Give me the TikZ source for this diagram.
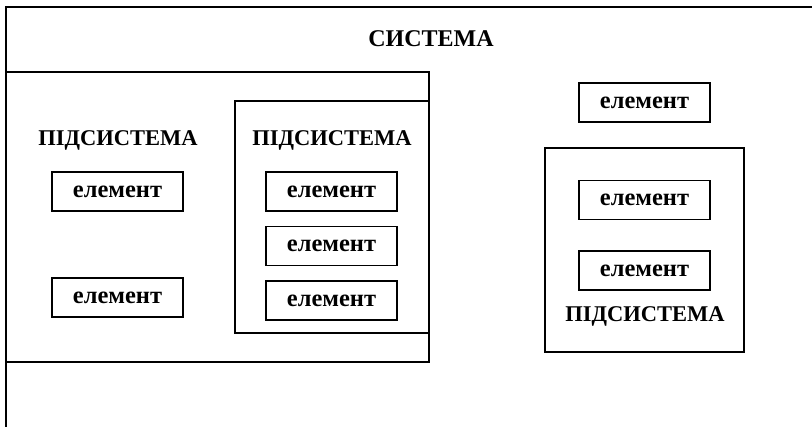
\documentclass[tikz,border=0pt]{standalone}
\usepackage{fontspec}
\setmainfont{Liberation Serif}
\usetikzlibrary{positioning}

\begin{document}
\begin{tikzpicture}
	[x=1pt,y=-1pt,
	frame/.style={line width=1.6pt},
	element/.style={draw,line width=1.6pt,minimum width=131pt,minimum height=39pt,inner sep=0pt,font=\fontsize{24.5}{26}\selectfont\bfseries},
	title/.style={inner sep=0pt,font=\fontsize{22.5}{24}\selectfont\bfseries}]
	\useasboundingbox (0,0) rectangle (812,427);
	% system
	\draw[frame] (6,430) -- (6,7) -- (815,7);
	\node[title,font=\fontsize{24}{26}\selectfont\bfseries] (sys) at (431,39) {СИСТЕМА};
	% left subsystem
	\draw[frame] (6,72) rectangle (429,362);
	\node[title] (subA) at (118,140) {ПІДСИСТЕМА};
	\node[element] (a1) at (117.5,191.5) {елемент};
	\node[element] (a2) at (117.5,297.5) {елемент};
	% inner subsystem
	\draw[frame] (235,101) rectangle (429,333);
	\node[title] (subB) at (332,140) {ПІДСИСТЕМА};
	\node[element] (b1) at (331.5,191.5) {елемент};
	\node[element, below=14pt of b1] (b2) {елемент};
	\node[element, below=14pt of b2] (b3) {елемент};
	% right part
	\node[element] (c0) at (644.5,102.5) {елемент};
	\draw[frame] (545,148) rectangle (744,352);
	\node[element] (c1) at (644.5,200) {елемент};
	\node[element] (c2) at (644.5,270.5) {елемент};
	\node[title] (subC) at (645,316) {ПІДСИСТЕМА};
\end{tikzpicture}
\end{document}
